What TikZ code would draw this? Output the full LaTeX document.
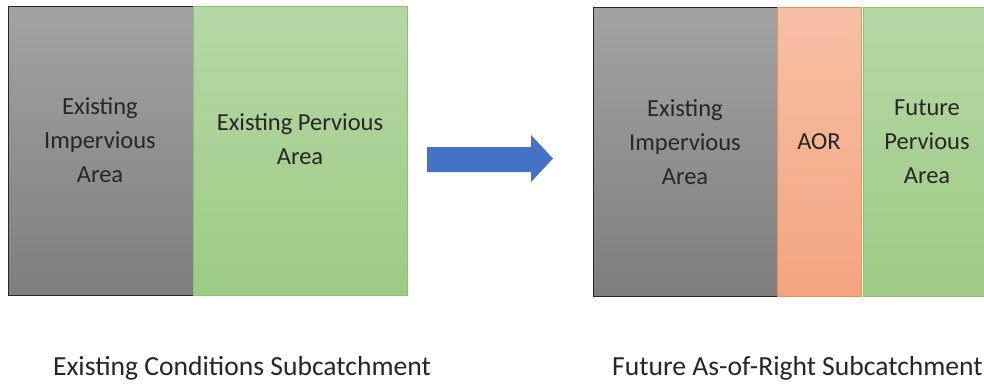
\documentclass[tikz,border=0pt]{standalone}
\usepackage{fontspec}
\setmainfont{Carlito}
\definecolor{grayT}{HTML}{A3A3A3}
\definecolor{grayB}{HTML}{7E7E7E}
\definecolor{greenT}{HTML}{B6D7A6}
\definecolor{greenB}{HTML}{9DCB84}
\definecolor{greenE}{HTML}{8DC26C}
\definecolor{orangeT}{HTML}{F7C0A6}
\definecolor{orangeB}{HTML}{F3A47F}
\definecolor{orangeE}{HTML}{EE8E5C}
\definecolor{arrowC}{HTML}{4472C4}
\definecolor{textC}{HTML}{262626}
\tikzset{
  x=1pt,y=-1pt,
  areabox/.style={minimum height=289pt, inner sep=0pt},
  imp/.style={areabox, top color=grayT, bottom color=grayB, draw=black!85, line width=1pt},
  perv/.style={areabox, top color=greenT, bottom color=greenB, draw=greenE, line width=0.8pt},
  aor/.style={areabox, top color=orangeT, bottom color=orangeB, draw=orangeE, line width=0.8pt},
  areatext/.style={align=center, font=\fontsize{24.5}{34}\selectfont, text=textC, inner sep=0pt},
  caption/.style={font=\fontsize{27.6}{32}\selectfont, text=textC, inner sep=0pt},
}
\begin{document}
\begin{tikzpicture}
\useasboundingbox (0,0) rectangle (984,383);
\node[imp, minimum width=185pt, anchor=north west] (ei1) at (8,6) {};
\node[perv, minimum width=214pt, anchor=north west] (ep) at (193,6) {};
\node[imp, minimum width=184pt, anchor=north west] (ei2) at (593,7) {};
\node[aor, minimum width=84pt, anchor=north west] (aor) at (777,7) {};
\node[perv, minimum width=130pt, anchor=north west] (fp) at (863,7) {};
\node[areatext] (t1) at (100,140) {Existing\\Impervious\\Area};
\node[areatext] (t2) at (300,139) {Existing Pervious\\Area};
\node[areatext] (t3) at (685,142) {Existing\\Impervious\\Area};
\node[areatext] (t4) at (819,142) {AOR};
\node[areatext] (t5) at (927,142) {Future\\Pervious\\Area};
\fill[arrowC] (427,147) -- (531,147) -- (531,135) -- (553,158.5) -- (531,182) -- (531,172) -- (427,172) -- cycle;
\node[caption, anchor=base] (c1) at (242,375) {Existing Conditions Subcatchment};
\node[caption, anchor=base west] (c2) at (612,375) {Future As-of-Right Subcatchment};
\end{tikzpicture}
\end{document}
